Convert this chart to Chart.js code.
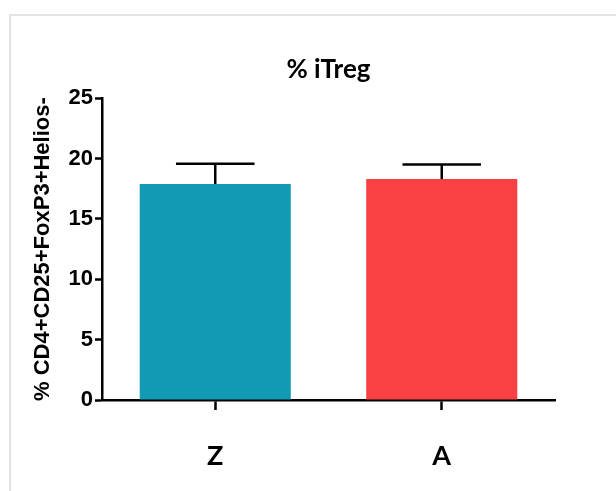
<!DOCTYPE html>
<html>
<head>
<meta charset="utf-8">
<script src="https://cdn.jsdelivr.net/npm/chart.js@4.4.1/dist/chart.umd.min.js"></script>
<style>
  html, body { margin: 0; padding: 0; background: #ffffff; }
  #wrap { position: relative; width: 616px; height: 491px; overflow: hidden; }
  #frame { position: absolute; left: 9px; top: 14px; width: 700px; height: 600px;
           border-top: 2px solid #e4e4e4; border-left: 2px solid #e4e4e4; }
  canvas { position: absolute; left: 0; top: 0; }
</style>
</head>
<body>
<div id="wrap">
  <div id="frame"></div>
  <canvas id="c" width="616" height="491"></canvas>
</div>
<script>
const categories = ['Z', 'A'];
const meanValues = [17.9, 18.3];
const semValues = [1.67, 1.2];
const barColors = ['#129ab4', '#f94042'];
const yTicks = [0, 5, 10, 15, 20, 25];
const chartTitle = '% iTreg';
const yAxisTitle = '% CD4+CD25+FoxP3+Helios-';

const errorBars = {
  id: 'errorBars',
  afterDatasetsDraw(chart) {
    const ctx = chart.ctx;
    const meta = chart.getDatasetMeta(0);
    const ys = chart.scales.y;
    ctx.save();
    ctx.strokeStyle = '#000';
    ctx.lineWidth = 2.5;
    ctx.lineCap = 'butt';
    meta.data.forEach((bar, i) => {
      const top = ys.getPixelForValue(meanValues[i] + semValues[i]);
      const base = ys.getPixelForValue(meanValues[i]);
      const half = bar.width * 0.26;
      ctx.beginPath();
      ctx.moveTo(bar.x, base);
      ctx.lineTo(bar.x, top);
      ctx.moveTo(bar.x - half, top);
      ctx.lineTo(bar.x + half, top);
      ctx.stroke();
    });
    ctx.restore();
  }
};

new Chart(document.getElementById('c'), {
  type: 'bar',
  data: {
    labels: categories,
    datasets: [{
      data: meanValues,
      backgroundColor: barColors,
      borderWidth: 0,
      barPercentage: 0.667,
      categoryPercentage: 1.0
    }]
  },
  options: {
    responsive: false,
    animation: false,
    layout: { padding: { left: 0, right: 61, top: 0, bottom: 0 } },
    plugins: {
      legend: { display: false },
      tooltip: { enabled: false },
      title: {
        display: true,
        text: chartTitle,
        fullSize: false,
        color: '#000',
        font: { family: 'Lato', size: 26, weight: 'bold', lineHeight: 1.2 },
        padding: { top: 54, bottom: 13 }
      }
    },
    scales: {
      x: {
        afterFit(s) { s.height = 91; },
        border: { display: true, color: '#000', width: 2.5 },
        grid: { display: true, offset: false, drawOnChartArea: false, drawTicks: true,
                tickLength: 10, tickWidth: 2.5, tickColor: '#000' },
        ticks: { color: '#000', padding: 30,
                 font: { family: 'Lato', size: 27, weight: 'bold' } }
      },
      y: {
        min: 0, max: 25,
        afterFit(s) { s.width = 102; },
        afterBuildTicks(s) { s.ticks = yTicks.map(v => ({ value: v })); },
        border: { display: true, color: '#000', width: 2.5 },
        grid: { display: true, drawOnChartArea: false, drawTicks: true,
                tickLength: 7, tickWidth: 2.5, tickColor: '#000' },
        ticks: { color: '#000', padding: 2,
                 font: { family: 'Liberation Sans', size: 22, weight: 'bold' } },
        title: {
          display: true,
          text: yAxisTitle,
          color: '#000',
          font: { family: 'Liberation Sans', size: 22, weight: 'bold', lineHeight: 1.2 },
          padding: { top: 30, bottom: 0 }
        }
      }
    }
  },
  plugins: [errorBars]
});
</script>
</body>
</html>
